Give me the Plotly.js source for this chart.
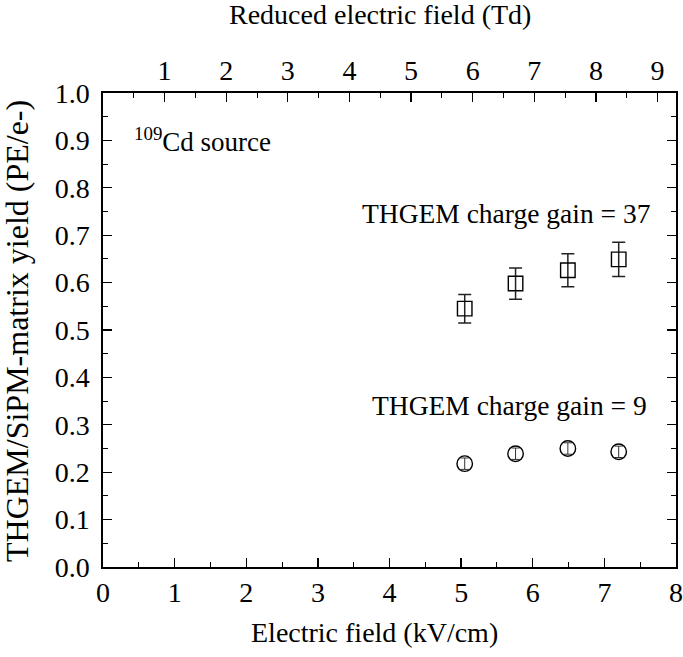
<!DOCTYPE html>
<html><head><meta charset="utf-8">
<script src="https://cdn.plot.ly/plotly-3.0.1.min.js"></script>
<style>body{margin:0;padding:0;background:#fff}#chart{width:683px;height:657px}</style>
</head><body><div id="chart"></div>
<script>
const fieldGain37 = [5.05, 5.76, 6.49, 7.2];
const yieldGain37 = [0.545, 0.598, 0.626, 0.649];
const errGain37 = [0.030, 0.033, 0.035, 0.036];
const fieldGain9 = [5.05, 5.76, 6.49, 7.2];
const yieldGain9 = [0.218, 0.239, 0.250, 0.243];
const errGain9 = [0.012, 0.012, 0.012, 0.012];
const tdMax = 9.30;
const xTitle = 'Electric field (kV/cm)';
const x2Title = 'Reduced electric field (Td)';
const yTitle = 'THGEM/SiPM-matrix yield (PE/e-)';

const F = "Liberation Serif";
const traces = [
  {x: fieldGain37, y: yieldGain37, type: 'scatter', mode: 'markers',
   marker: {symbol: 'square-open', size: 14.5, color: '#000', line: {width: 1.4, color: '#111'}},
   error_y: {type: 'data', array: errGain37, visible: true, color: '#222', thickness: 1.5, width: 6.5},
   showlegend: false},
  {x: fieldGain9, y: yieldGain9, type: 'scatter', mode: 'markers',
   marker: {symbol: 'circle-open', size: 15.5, color: '#000', line: {width: 1.4, color: '#111'}},
   error_y: {type: 'data', array: errGain9, visible: true, color: '#333', thickness: 1, width: 4},
   showlegend: false},
  {x: [0, tdMax], y: [0, 0], xaxis: 'x2', type: 'scatter', mode: 'markers',
   marker: {opacity: 0}, hoverinfo: 'skip', showlegend: false}
];
const axCommon = {showline: true, linecolor: '#000', linewidth: 1.7, ticks: 'inside', ticklen: 9,
  tickwidth: 1.3, tickcolor: '#000', showgrid: false, zeroline: false,
  tickfont: {family: F, size: 28, color: '#000'}};
const layout = {
  width: 683, height: 657,
  margin: {l: 103, r: 7, t: 93, b: 90},
  paper_bgcolor: '#fff', plot_bgcolor: '#fff',
  font: {family: F, color: '#000'},
  xaxis: Object.assign({}, axCommon, {range: [0, 8], dtick: 1, tick0: 0, mirror: false,
    minor: {dtick: 0.5, ticks: 'inside', ticklen: 5, tickcolor: '#000', tickwidth: 1}}),
  xaxis2: Object.assign({}, axCommon, {range: [0, tdMax], overlaying: 'x', side: 'top',
    tickmode: 'array', tickvals: [1,2,3,4,5,6,7,8,9],
    minor: {tickvals: [0.5,1.5,2.5,3.5,4.5,5.5,6.5,7.5,8.5], ticks: 'inside', ticklen: 5, tickcolor: '#000', tickwidth: 1}}),
  yaxis: Object.assign({}, axCommon, {range: [0, 1.0], dtick: 0.1, tick0: 0, tickformat: '.1f', mirror: 'ticks',
    ticklabelstandoff: 6,
    minor: {dtick: 0.05, ticks: 'inside', ticklen: 5, tickcolor: '#000', tickwidth: 1}}),
  annotations: [
    {x: 0.473, y: -0.139, xref: 'paper', yref: 'paper', xanchor: 'center', yanchor: 'middle', showarrow: false,
     text: xTitle, font: {family: F, size: 28, color: '#000'}},
    {x: 0.483, y: 1.165, xref: 'paper', yref: 'paper', xanchor: 'center', yanchor: 'middle', showarrow: false,
     text: x2Title, font: {family: F, size: 28, color: '#000'}},
    {x: -0.150, y: 0.498, xref: 'paper', yref: 'paper', xanchor: 'center', yanchor: 'middle', showarrow: false,
     textangle: -90, text: yTitle, font: {family: F, size: 32, color: '#000'}},
    {x: 0.40, y: 0.90, xref: 'x', yref: 'y', xanchor: 'left', yanchor: 'middle', showarrow: false,
     text: '<sup>109</sup>Cd source', font: {family: F, size: 27, color: '#000'}},
    {x: 7.66, y: 0.745, xref: 'x', yref: 'y', xanchor: 'right', yanchor: 'middle', showarrow: false,
     text: 'THGEM charge gain = 37', font: {family: F, size: 27.5, color: '#000'}},
    {x: 7.62, y: 0.341, xref: 'x', yref: 'y', xanchor: 'right', yanchor: 'middle', showarrow: false,
     text: 'THGEM charge gain = 9', font: {family: F, size: 27.5, color: '#000'}}
  ]
};
Plotly.newPlot('chart', traces, layout, {displayModeBar: false, staticPlot: true});
</script></body></html>
